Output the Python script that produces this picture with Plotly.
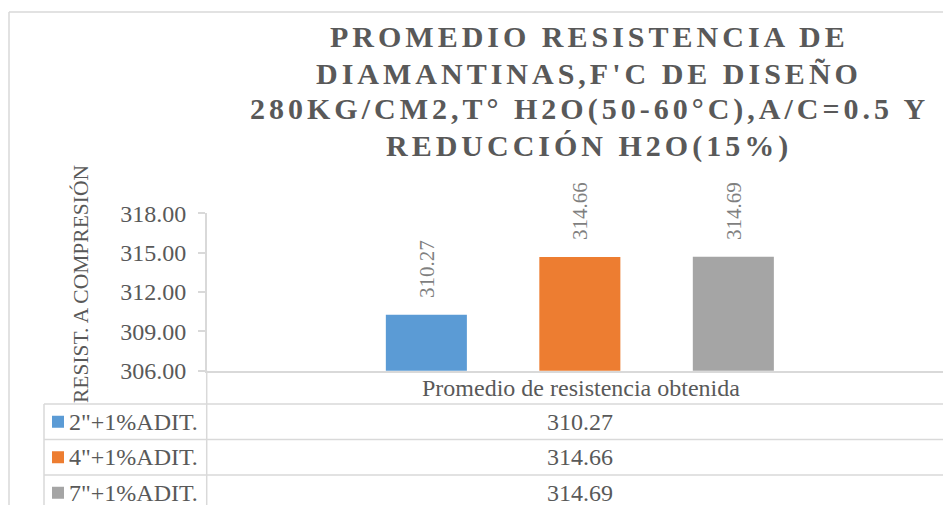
import plotly.graph_objects as go

# Chart data
category = ["Promedio de resistencia obtenida"]
series_names = ['2"+1%ADIT.', '4"+1%ADIT.', '7"+1%ADIT.']
series_values = [310.27, 314.66, 314.69]
series_colors = ["#5B9BD5", "#ED7D31", "#A5A5A5"]
y_ticks = [306, 309, 312, 315, 318]

title_lines = ["PROMEDIO RESISTENCIA DE",
               "DIAMANTINAS,F'C DE DISEÑO",
               "280KG/CM2,T° H2O(50-60°C),A/C=0.5 Y",
               "REDUCCIÓN H2O(15%)"]
y_title = "RESIST. A COMPRESIÓN"

W, H = 943, 505
FONT = "Liberation Serif"
TXT = "#595959"
LINE = "#D9D9D9"


def px(x):
    return x / W


def py(y):
    return 1 - y / H


annotations = []
shapes = []

# chart title, one annotation per line (they come first so the
# letter-spacing script can find them by index)
title_centers = [36.5, 73, 109.5, 146]
for line, cy in zip(title_lines, title_centers):
    annotations.append(dict(
        x=px(589), y=py(cy), xref="paper", yref="paper", text=line,
        showarrow=False, xanchor="center", yanchor="middle",
        font=dict(family=FONT, size=30, color=TXT, weight="bold")))

fig = go.Figure()
for name, val, col in zip(series_names, series_values, series_colors):
    fig.add_trace(go.Bar(x=category, y=[val], name=name, marker_color=col,
                         marker_line_width=0, showlegend=False))

# rotated value labels above each bar
slot = 153.5
for i, val in enumerate(series_values):
    annotations.append(dict(
        x=category[0], xref="x", y=val, yref="y",
        xshift=(i - 1) * slot, yshift=15,
        text=f"{val:.2f}", textangle=-90, showarrow=False,
        xanchor="center", yanchor="bottom",
        font=dict(family=FONT, size=21, color="#7F7F7F")))

# axis title
annotations.append(dict(
    x=px(81), y=py(284), xref="paper", yref="paper", text=y_title,
    textangle=-90, showarrow=False, xanchor="center", yanchor="middle",
    font=dict(family=FONT, size=21.5, color=TXT)))

# data table: legend keys, series names and values
row_tops = [404, 439.5, 475]
row_h = 35.5
for name, val, col, top in zip(series_names, series_values, series_colors, row_tops):
    cy = top + row_h / 2
    shapes.append(dict(type="rect", xref="paper", yref="paper",
                       x0=px(52), x1=px(64), y0=py(cy - 6), y1=py(cy + 6),
                       fillcolor=col, line_width=0))
    annotations.append(dict(x=px(67), y=py(cy), xref="paper", yref="paper",
                            text=name, showarrow=False, xanchor="left", yanchor="middle",
                            font=dict(family=FONT, size=24, color=TXT)))
    annotations.append(dict(x=px(580), y=py(cy), xref="paper", yref="paper",
                            text=f"{val:.2f}", showarrow=False, xanchor="center",
                            yanchor="middle",
                            font=dict(family=FONT, size=24, color=TXT)))

annotations.append(dict(x=px(581), y=py(388), xref="paper", yref="paper",
                        text=category[0], showarrow=False, xanchor="center",
                        yanchor="middle", font=dict(family=FONT, size=24, color=TXT)))

# table grid lines
for top in row_tops:
    shapes.append(dict(type="line", xref="paper", yref="paper",
                       x0=px(44), x1=1, y0=py(top), y1=py(top),
                       line=dict(color=LINE, width=1.5)))
shapes.append(dict(type="line", xref="paper", yref="paper",
                   x0=px(44), x1=px(44), y0=py(404), y1=0,
                   line=dict(color=LINE, width=1.5)))
shapes.append(dict(type="line", xref="paper", yref="paper",
                   x0=px(206.7), x1=px(206.7), y0=py(370.7), y1=0,
                   line=dict(color=LINE, width=1.5)))
# chart area border
shapes.append(dict(type="line", xref="paper", yref="paper",
                   x0=px(9), x1=1, y0=py(12), y1=py(12),
                   line=dict(color=LINE, width=1.5)))
shapes.append(dict(type="line", xref="paper", yref="paper",
                   x0=px(9), x1=px(9), y0=py(12), y1=0,
                   line=dict(color=LINE, width=1.5)))

fig.update_layout(
    template="none",
    width=W, height=H,
    margin=dict(l=0, r=0, t=0, b=0, pad=0, autoexpand=False),
    paper_bgcolor="white", plot_bgcolor="white",
    barmode="group", bargap=0.383, bargroupgap=0.472,
    xaxis=dict(domain=[px(206.7), 1], range=[-0.5, 0.4866], automargin=False,
               showticklabels=False, ticks="", showgrid=False,
               showline=True, linecolor=LINE, linewidth=1.5, zeroline=False),
    yaxis=dict(domain=[py(370.7), py(213.3)], range=[306, 318], automargin=False,
               tickvals=y_ticks, tickformat=".2f", ticks="outside", ticklen=7,
               tickcolor=LINE, tickwidth=1.5, showgrid=False, zeroline=False,
               showline=True, linecolor=LINE, linewidth=1.5,
               tickfont=dict(family=FONT, size=24, color=TXT),
               ticklabelstandoff=7),
    annotations=annotations,
    shapes=shapes,
)

# widen the lettering of the title lines
n_title = len(title_lines)
post = ("document.querySelectorAll('.annotation').forEach(function(g){"
        "var i=parseInt(g.getAttribute('data-index'));"
        "if(i<" + str(n_title) + "){g.querySelectorAll('text').forEach(function(t){"
        "t.style.letterSpacing='4px';});}});")
fig.write_html("out.html", post_script=post)
